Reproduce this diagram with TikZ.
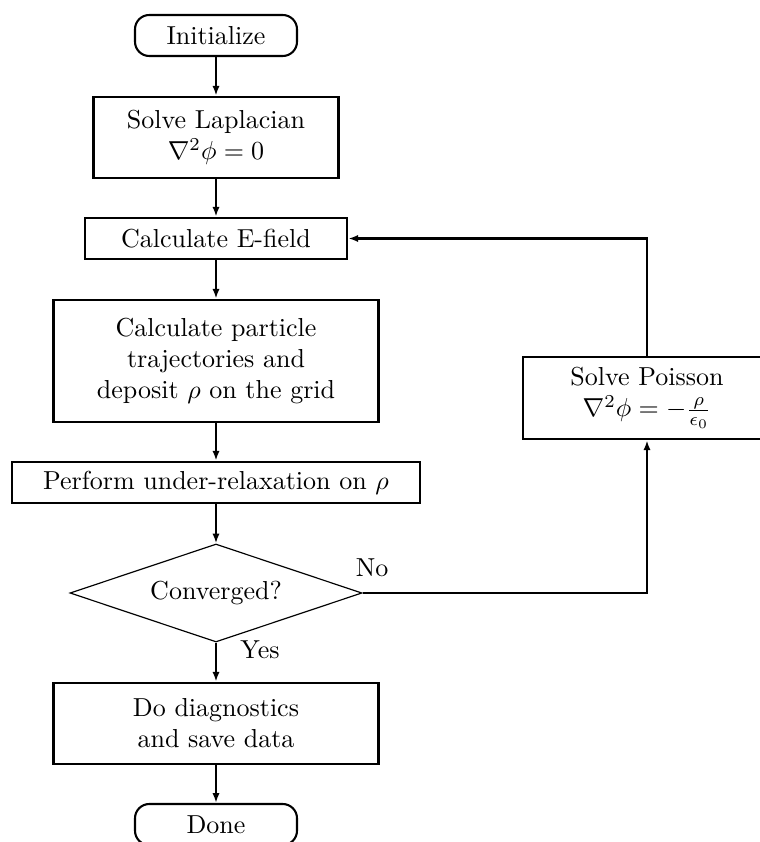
\documentclass[tikz,border=0pt]{standalone}
\usetikzlibrary{shapes.geometric,arrows.meta}
\newcommand\pxu{0.3846pt}
\begin{document}
\begin{tikzpicture}[x=0.3846pt,y=-0.3846pt,
  box/.style={draw, line width=1pt, align=center, inner sep=0pt},
  term/.style={draw, line width=0.8pt, rounded corners=5.5pt, inner sep=0pt},
  dec/.style={draw, diamond, aspect=3, line width=0.45pt, inner sep=0pt},
  conn/.style={line width=0.8pt, -{Latex[length=3.8pt,width=2.8pt]}},
  lbl/.style={inner sep=0pt}]
\useasboundingbox (0,0) rectangle (759,842);

\node[term, minimum width=162*\pxu, minimum height=41*\pxu] (init) at (216,35.5) {Initialize};
\node[box, minimum width=245*\pxu, minimum height=81*\pxu] (lap) at (216,137.5) {Solve Laplacian\\$\nabla^2\phi = 0$};
\node[box, minimum width=262*\pxu, minimum height=41*\pxu] (ef) at (216,238.5) {Calculate E-field};
\node[box, minimum width=325*\pxu, minimum height=122*\pxu] (calc) at (216,361) {Calculate particle\\trajectories and\\deposit $\rho$ on the grid};
\node[box, minimum width=408*\pxu, minimum height=41*\pxu] (perf) at (216,482.5) {Perform under-relaxation on $\rho$};
\node[dec, minimum width=292*\pxu, minimum height=98*\pxu] (conv) at (216,593) {Converged?};
\node[box, minimum width=325*\pxu, minimum height=81*\pxu] (diag) at (216,723.5) {Do diagnostics\\and save data};
\node[term, minimum width=162*\pxu, minimum height=41*\pxu] (done) at (216,824.5) {Done};
\node[box, minimum width=248*\pxu, minimum height=82*\pxu] (pois) at (647,398) {Solve Poisson\\$\nabla^2\phi = -\frac{\rho}{\epsilon_0}$};

\node[lbl] (no) at (372,568) {No};
\node[lbl] (yes) at (260,650) {Yes};

\draw[conn] (init) -- (lap);
\draw[conn] (lap) -- (ef);
\draw[conn] (ef) -- (calc);
\draw[conn] (calc) -- (perf);
\draw[conn] (perf) -- (conv);
\draw[conn] (conv) -- (diag);
\draw[conn] (diag) -- (done);
\draw[conn] (conv.east) -| (pois.south);
\draw[conn] (pois.north) |- (ef.east);
\end{tikzpicture}
\end{document}
